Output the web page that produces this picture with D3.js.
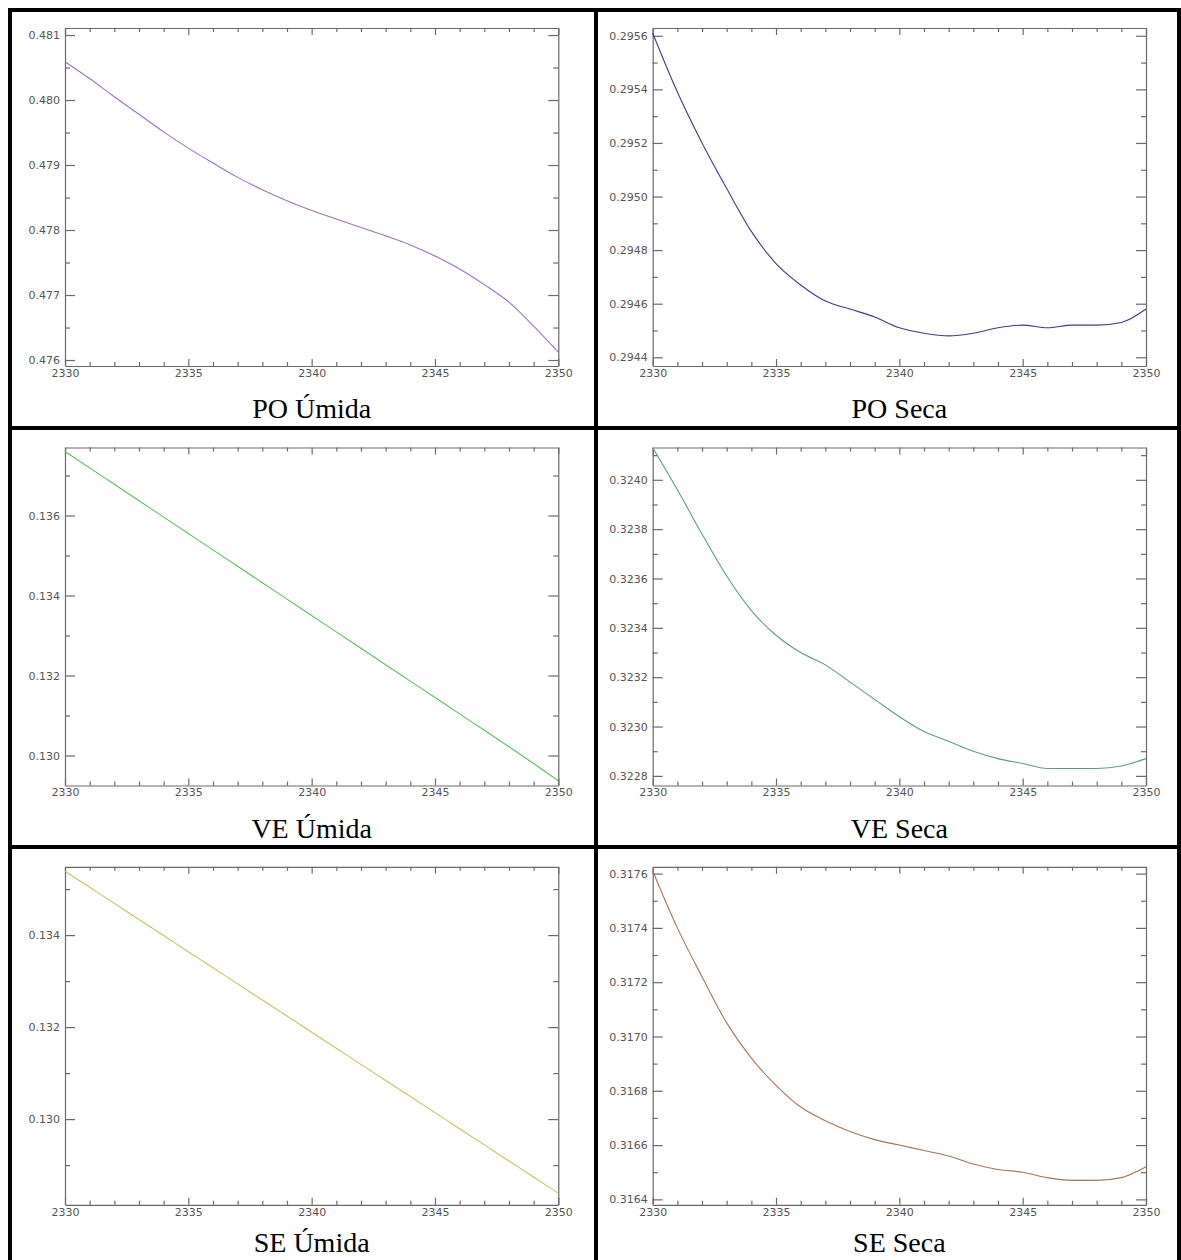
<!DOCTYPE html>
<html><head><meta charset="utf-8">
<script src="https://cdn.jsdelivr.net/npm/d3@7/dist/d3.min.js"></script>
<style>body{margin:0;background:#fff}svg{display:block}</style>
</head><body><svg id="c" width="1181" height="1260"></svg>
<script>
// ---- data ----
const years = [2330,2331,2332,2333,2334,2335,2336,2337,2338,2339,2340,2341,2342,2343,2344,2345,2346,2347,2348,2349,2350];
const titles = ["PO Úmida","PO Seca","VE Úmida","VE Seca","SE Úmida","SE Seca"];
const poUmida = [0.48059,0.48033,0.48005,0.47978,0.47951,0.47926,0.47903,0.47881,0.47862,0.47845,0.47830,0.47817,0.47804,0.47791,0.47777,0.47760,0.47740,0.47716,0.47689,0.47652,0.47612];
const poSeca  = [0.29561,0.29539,0.29520,0.29503,0.29487,0.29475,0.29467,0.29461,0.29458,0.29455,0.29451,0.29449,0.29448,0.29449,0.29451,0.29452,0.29451,0.29452,0.29452,0.29453,0.29458];
const veUmida = [0.13760,0.13719,0.13678,0.13637,0.13596,0.13555,0.13514,0.13473,0.13432,0.13391,0.13350,0.13309,0.13268,0.13227,0.13186,0.13145,0.13104,0.13063,0.13022,0.12980,0.12937];
const veSeca  = [0.32413,0.32396,0.32378,0.32361,0.32347,0.32337,0.32330,0.32325,0.32318,0.32311,0.32304,0.32298,0.32294,0.32290,0.32287,0.32285,0.32283,0.32283,0.32283,0.32284,0.32287];
const seUmida = [0.13539,0.13504,0.13469,0.13434,0.13399,0.13364,0.13329,0.13294,0.13259,0.13224,0.13189,0.13154,0.13119,0.13084,0.13049,0.13014,0.12979,0.12944,0.12909,0.12874,0.12839];
const seSeca  = [0.31761,0.31740,0.31722,0.31705,0.31692,0.31682,0.31674,0.31669,0.31665,0.31662,0.31660,0.31658,0.31656,0.31653,0.31651,0.31650,0.31648,0.31647,0.31647,0.31648,0.31652];
const series = [poUmida, poSeca, veUmida, veSeca, seUmida, seSeca];
const colors = ["#9a72c4","#3a3a9c","#5cbf5c","#5b9c8c","#c9c15a","#a87458"];
const xMajor = [2330,2335,2340,2345,2350];
const xMinor = [2331,2332,2333,2334,2336,2337,2338,2339,2341,2342,2343,2344,2346,2347,2348,2349];
const yDomains = [[0.475908,0.481108],[0.2943675,0.295629],[0.12925,0.1377],[0.322761,0.324131],[0.128137,0.135485],[0.31638,0.317625]];
const yMajor = [
  [0.476,0.477,0.478,0.479,0.480,0.481],
  [0.2944,0.2946,0.2948,0.2950,0.2952,0.2954,0.2956],
  [0.130,0.132,0.134,0.136],
  [0.3228,0.3230,0.3232,0.3234,0.3236,0.3238,0.3240],
  [0.130,0.132,0.134],
  [0.3164,0.3166,0.3168,0.3170,0.3172,0.3174,0.3176]
];
const yMinor = [
  [0.4765,0.4775,0.4785,0.4795,0.4805],
  [0.2945,0.2947,0.2949,0.2951,0.2953,0.2955],
  [0.131,0.133,0.135,0.137],
  [0.3229,0.3231,0.3233,0.3235,0.3237,0.3239,0.3241],
  [0.129,0.131,0.133,0.135],
  [0.3165,0.3167,0.3169,0.3171,0.3173,0.3175]
];
const yFormats = [".3f",".4f",".3f",".4f",".3f",".4f"];

// ---- layout ----
const svg = d3.select("#c");
const colLeft = [65, 652.7];
const plotW = 493.3;
const rowTop = [28, 447.5, 866.8];
const plotH = 338;
const titleY = [418, 837.5, 1252];
const axisColor = "#6a6a6a";
const labelColor = "#555";
const tickFont = "'DejaVu Sans', sans-serif";

series.forEach((vals, i) => {
  const col = i % 2, row = Math.floor(i / 2);
  const L = colLeft[col], T = rowTop[row];
  const x = d3.scaleLinear().domain([2330, 2350]).range([L, L + plotW]);
  const y = d3.scaleLinear().domain(yDomains[i]).range([T + plotH, T]);
  const g = svg.append("g");
  const fmt = d3.format(yFormats[i]);

  function styleAxis(sel, showLabels) {
    sel.selectAll(".domain").attr("stroke", axisColor).attr("stroke-width", 1.2);
    sel.selectAll(".tick line").attr("stroke", axisColor).attr("stroke-width", 1.2);
    sel.selectAll(".tick text").attr("fill", labelColor).style("font-family", tickFont).style("font-size", "11px");
    if (!showLabels) sel.selectAll(".tick text").remove();
  }
  // bottom axis
  const bMaj = g.append("g").attr("transform", `translate(0,${T + plotH})`)
    .call(d3.axisBottom(x).tickValues(xMajor).tickFormat(d3.format("d")).tickSizeInner(-7).tickSizeOuter(0).tickPadding(3));
  styleAxis(bMaj, true);
  const bMin = g.append("g").attr("transform", `translate(0,${T + plotH})`)
    .call(d3.axisBottom(x).tickValues(xMinor).tickFormat("").tickSizeInner(-4).tickSizeOuter(0));
  styleAxis(bMin, false); bMin.select(".domain").remove();
  // top axis
  const tMaj = g.append("g").attr("transform", `translate(0,${T})`)
    .call(d3.axisTop(x).tickValues(xMajor).tickFormat("").tickSizeInner(-7).tickSizeOuter(0));
  styleAxis(tMaj, false);
  const tMin = g.append("g").attr("transform", `translate(0,${T})`)
    .call(d3.axisTop(x).tickValues(xMinor).tickFormat("").tickSizeInner(-4).tickSizeOuter(0));
  styleAxis(tMin, false); tMin.select(".domain").remove();
  // left axis
  const lMaj = g.append("g").attr("transform", `translate(${L},0)`)
    .call(d3.axisLeft(y).tickValues(yMajor[i]).tickFormat(fmt).tickSizeInner(-10).tickSizeOuter(0).tickPadding(5));
  styleAxis(lMaj, true);
  const lMin = g.append("g").attr("transform", `translate(${L},0)`)
    .call(d3.axisLeft(y).tickValues(yMinor[i]).tickFormat("").tickSizeInner(-5).tickSizeOuter(0));
  styleAxis(lMin, false); lMin.select(".domain").remove();
  // right axis
  const rMaj = g.append("g").attr("transform", `translate(${L + plotW},0)`)
    .call(d3.axisRight(y).tickValues(yMajor[i]).tickFormat("").tickSizeInner(-10).tickSizeOuter(0));
  styleAxis(rMaj, false);
  const rMin = g.append("g").attr("transform", `translate(${L + plotW},0)`)
    .call(d3.axisRight(y).tickValues(yMinor[i]).tickFormat("").tickSizeInner(-5).tickSizeOuter(0));
  styleAxis(rMin, false); rMin.select(".domain").remove();

  // line
  const line = d3.line().x((d, k) => x(years[k])).y(d => y(d)).curve(d3.curveMonotoneX);
  g.append("path").datum(vals).attr("d", line)
    .attr("fill", "none").attr("stroke", colors[i]).attr("stroke-width", 1.1);

  // title
  g.append("text").attr("x", L + plotW / 2).attr("y", titleY[row])
    .attr("text-anchor", "middle")
    .style("font-family", "'Liberation Serif','Times New Roman',serif")
    .style("font-size", "28px").attr("fill", "#000").text(titles[i]);
});

// ---- table borders ----
const vLines = [10, 596, 1179];
const hLines = [10, 428, 847, 1266];
const bw = 4;
vLines.forEach(v => svg.append("line").attr("x1", v).attr("x2", v).attr("y1", 8).attr("y2", 1268)
  .attr("stroke", "#000").attr("stroke-width", bw));
hLines.forEach(h => svg.append("line").attr("x1", 8).attr("x2", 1181).attr("y1", h).attr("y2", h)
  .attr("stroke", "#000").attr("stroke-width", bw));
</script></body></html>
